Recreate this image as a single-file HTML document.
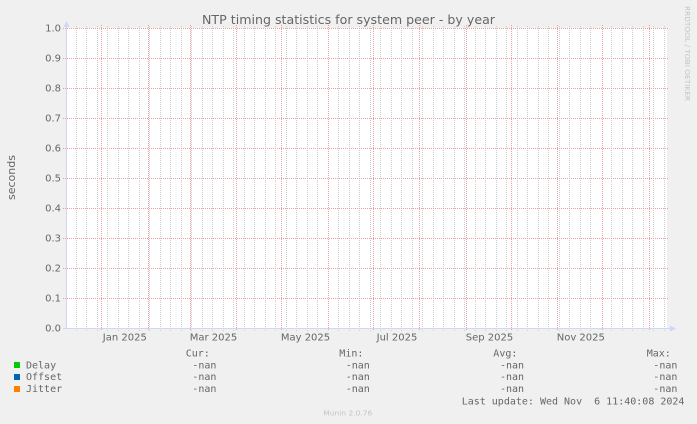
<!DOCTYPE html>
<html><head><meta charset="utf-8"><style>
html,body{margin:0;padding:0;background:#f0f0f0;}
#w{position:relative;width:697px;height:424px;overflow:hidden;background:#f0f0f0;}
#cv{position:absolute;left:67px;top:28px;width:600px;height:300px;background:#fff;}
.g{position:absolute;top:26px;width:1px;height:305px;background:repeating-linear-gradient(to bottom,#cccccc 0px,#cccccc 1px,transparent 1px,transparent 2px);}
.r{position:absolute;top:25px;width:1px;height:306px;background:repeating-linear-gradient(to bottom,#eea0a0 0px,#eea0a0 1px,transparent 1px,transparent 2px);}
.h{position:absolute;left:63px;width:606px;height:1px;background:repeating-linear-gradient(to right,#eea0a0 0px,#eea0a0 1px,transparent 1px,transparent 2px);}
svg{position:absolute;left:0;top:0;display:block;}
.t{font-family:"DejaVu Sans","Liberation Sans",sans-serif;fill:#666;}
.m{font-family:"DejaVu Sans Mono","Liberation Mono",monospace;font-size:10px;fill:#666;white-space:pre;}
</style></head><body>
<div id="w">
<div id="cv"></div>
<div class="g" style="left:76px"></div><div class="g" style="left:86px"></div>
<div class="g" style="left:97px"></div><div class="g" style="left:107px"></div>
<div class="g" style="left:118px"></div><div class="g" style="left:128px"></div>
<div class="g" style="left:139px"></div><div class="g" style="left:149px"></div>
<div class="g" style="left:160px"></div><div class="g" style="left:170px"></div>
<div class="g" style="left:181px"></div><div class="g" style="left:191px"></div>
<div class="g" style="left:202px"></div><div class="g" style="left:212px"></div>
<div class="g" style="left:223px"></div><div class="g" style="left:233px"></div>
<div class="g" style="left:244px"></div><div class="g" style="left:254px"></div>
<div class="g" style="left:265px"></div><div class="g" style="left:275px"></div>
<div class="g" style="left:286px"></div><div class="g" style="left:296px"></div>
<div class="g" style="left:307px"></div><div class="g" style="left:317px"></div>
<div class="g" style="left:338px"></div>
<div class="g" style="left:349px"></div><div class="g" style="left:359px"></div>
<div class="g" style="left:370px"></div><div class="g" style="left:380px"></div>
<div class="g" style="left:391px"></div><div class="g" style="left:401px"></div>
<div class="g" style="left:412px"></div><div class="g" style="left:422px"></div>
<div class="g" style="left:433px"></div><div class="g" style="left:443px"></div>
<div class="g" style="left:454px"></div><div class="g" style="left:464px"></div>
<div class="g" style="left:475px"></div><div class="g" style="left:485px"></div>
<div class="g" style="left:496px"></div><div class="g" style="left:506px"></div>
<div class="g" style="left:517px"></div><div class="g" style="left:527px"></div>
<div class="g" style="left:538px"></div><div class="g" style="left:548px"></div>
<div class="g" style="left:559px"></div><div class="g" style="left:569px"></div>
<div class="g" style="left:580px"></div><div class="g" style="left:590px"></div>
<div class="g" style="left:611px"></div>
<div class="g" style="left:622px"></div><div class="g" style="left:632px"></div>
<div class="g" style="left:643px"></div><div class="g" style="left:653px"></div>
<div class="g" style="left:664px"></div>
<div class="r" style="left:101px"></div><div class="r" style="left:148px"></div>
<div class="r" style="left:190px"></div><div class="r" style="left:236px"></div>
<div class="r" style="left:281px"></div><div class="r" style="left:328px"></div>
<div class="r" style="left:373px"></div><div class="r" style="left:419px"></div>
<div class="r" style="left:466px"></div><div class="r" style="left:511px"></div>
<div class="r" style="left:557px"></div><div class="r" style="left:602px"></div>
<div class="r" style="left:649px"></div>
<div class="h" style="top:28px"></div><div class="h" style="top:58px"></div>
<div class="h" style="top:88px"></div><div class="h" style="top:118px"></div>
<div class="h" style="top:148px"></div><div class="h" style="top:178px"></div>
<div class="h" style="top:208px"></div><div class="h" style="top:238px"></div>
<div class="h" style="top:268px"></div><div class="h" style="top:298px"></div>
<svg width="697" height="424" viewBox="0 0 697 424" xmlns="http://www.w3.org/2000/svg">
<!-- axes -->
<rect x="66" y="26" width="1" height="303" fill="#CFD6F8"/>
<rect x="63" y="328" width="608" height="1" fill="#CFD6F8"/>
<polygon points="63.5,27 66.5,21 69.5,27" fill="#CFD6F8"/>
<polygon points="670,325.5 676,328.5 670,331.5" fill="#CFD6F8"/>
<!-- title -->
<text class="t" x="348.5" y="24" font-size="12.5" text-anchor="middle" textLength="293" lengthAdjust="spacingAndGlyphs">NTP timing statistics for system peer - by year</text>
<!-- y label -->
<text class="t" font-size="11" text-anchor="middle" transform="translate(15,177.5) rotate(-90)">seconds</text>
<!-- y ticks -->
<g class="t" font-size="10" text-anchor="end">
<text x="61" y="31.7">1.0</text>
<text x="61" y="61.7">0.9</text>
<text x="61" y="91.7">0.8</text>
<text x="61" y="121.7">0.7</text>
<text x="61" y="151.7">0.6</text>
<text x="61" y="181.7">0.5</text>
<text x="61" y="211.7">0.4</text>
<text x="61" y="241.7">0.3</text>
<text x="61" y="271.7">0.2</text>
<text x="61" y="301.7">0.1</text>
<text x="61" y="331.7">0.0</text>
</g>
<!-- x ticks -->
<g class="t" font-size="10" text-anchor="middle">
<text x="124.8" y="340.5">Jan 2025</text>
<text x="213.5" y="340.5">Mar 2025</text>
<text x="305.5" y="340.5">May 2025</text>
<text x="397" y="340.5">Jul 2025</text>
<text x="489.5" y="340.5">Sep 2025</text>
<text x="580.8" y="340.5">Nov 2025</text>
</g>
<!-- watermark -->
<text class="t" font-size="7" style="fill:#c4c4c4" transform="translate(685,6) rotate(90)" textLength="95" lengthAdjust="spacingAndGlyphs">RRDTOOL / TOBI OETIKER</text>
<!-- legend -->
<rect x="14" y="362" width="6" height="6" fill="#00CC00"/>
<rect x="14" y="374" width="6" height="6" fill="#0066B3"/>
<rect x="14" y="386" width="6" height="6" fill="#FF8000"/>
<text class="m" x="26" y="368.3">Delay</text>
<text class="m" x="26" y="380.1">Offset</text>
<text class="m" x="26" y="391.9">Jitter</text>
<text class="m" x="185.7" y="356.3">Cur:</text>
<text class="m" x="339.3" y="356.3">Min:</text>
<text class="m" x="493.3" y="356.3">Avg:</text>
<text class="m" x="646.7" y="356.3">Max:</text>
<text class="m" x="192.3" y="368.3">-nan</text>
<text class="m" x="345.7" y="368.3">-nan</text>
<text class="m" x="500" y="368.3">-nan</text>
<text class="m" x="653.3" y="368.3">-nan</text>
<text class="m" x="192.3" y="380.1">-nan</text>
<text class="m" x="345.7" y="380.1">-nan</text>
<text class="m" x="500" y="380.1">-nan</text>
<text class="m" x="653.3" y="380.1">-nan</text>
<text class="m" x="192.3" y="391.9">-nan</text>
<text class="m" x="345.7" y="391.9">-nan</text>
<text class="m" x="500" y="391.9">-nan</text>
<text class="m" x="653.3" y="391.9">-nan</text>
<text class="m" x="461.7" y="404.3">Last update: Wed Nov  6 11:40:08 2024</text>
<text class="t" x="347.8" y="415.3" font-size="7" text-anchor="middle" style="fill:#c4c4c4" textLength="49" lengthAdjust="spacingAndGlyphs">Munin 2.0.76</text>
</svg>
</div>
</body></html>
